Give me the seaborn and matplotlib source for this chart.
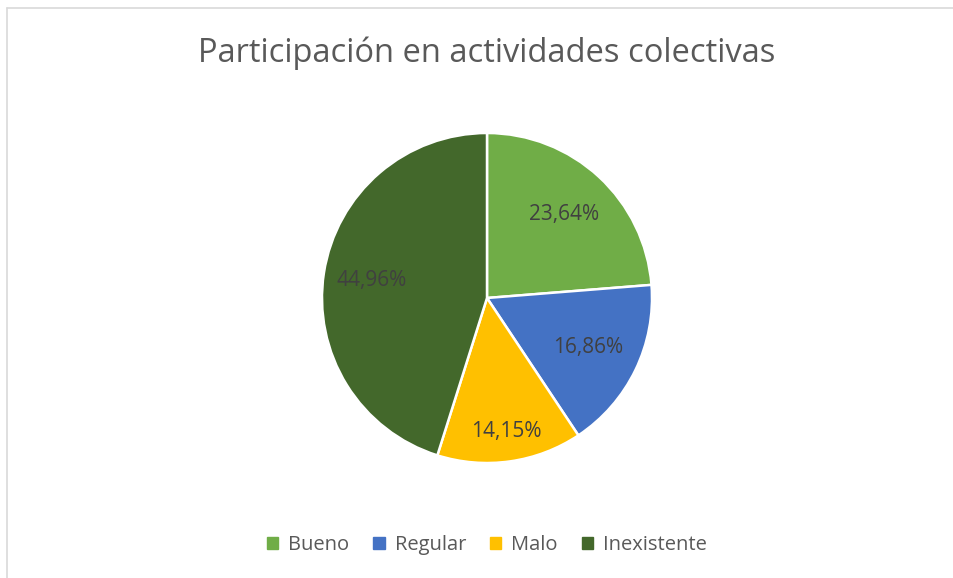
import matplotlib.pyplot as plt
import matplotlib.lines as mlines
import seaborn as sns
import numpy as np

sns.set_theme(style="white")
plt.rcParams['font.family'] = ['Open Sans', 'DejaVu Sans']

# datos
categorias = ['Bueno', 'Regular', 'Malo', 'Inexistente']
porcentajes = [23.64, 16.86, 14.15, 44.96]
colores = sns.color_palette(['#70AD47', '#4472C4', '#FFC000', '#43682B'])
dist_etiquetas = [0.69, 0.68, 0.82, 0.71]

W, H = 954, 578
fig = plt.figure(figsize=(W / 100, H / 100), dpi=100)

# marco del grafico (solo bordes izquierdo y superior visibles)
gris = '#D9D9D9'
fig.add_artist(mlines.Line2D([7.5 / W, 1], [1 - 7.5 / H, 1 - 7.5 / H], color=gris, lw=1.2))
fig.add_artist(mlines.Line2D([7.5 / W, 7.5 / W], [0, 1 - 7.5 / H], color=gris, lw=1.2))

# pastel
cx, cy, r = 487, 298, 165
ax = fig.add_axes([(cx - r) / W, (H - cy - r) / H, 2 * r / W, 2 * r / H])
wedges, _ = ax.pie(porcentajes, colors=colores, startangle=90, counterclock=False,
                   wedgeprops=dict(edgecolor='white', linewidth=1.8))
ax.set_xlim(-1, 1)
ax.set_ylim(-1, 1)
ax.set_aspect('equal')
ax.axis('off')

for w, p, d in zip(wedges, porcentajes, dist_etiquetas):
    ang = np.deg2rad((w.theta1 + w.theta2) / 2)
    ax.text(d * np.cos(ang), d * np.sin(ang), f"{p:.2f}%".replace('.', ','),
            ha='center', va='center', fontsize=15, color='#404040')

fig.text(cx / W, 1 - 53 / H, 'Participación en actividades colectivas',
         ha='center', va='center', fontsize=23.5, color='#595959')

handles = [plt.Rectangle((0, 0), 1, 1, color=c) for c in colores]
fig.legend(handles, categorias, loc='center', bbox_to_anchor=(cx / W, 1 - 545 / H),
           ncol=4, frameon=False, fontsize=14.5, labelcolor='#595959',
           handlelength=0.55, handleheight=0.55, handletextpad=0.5, columnspacing=1.2)

fig.savefig('out.png', dpi=100)
